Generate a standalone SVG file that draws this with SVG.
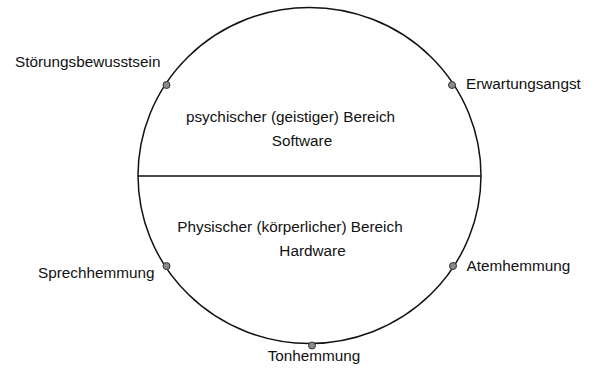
<svg xmlns="http://www.w3.org/2000/svg" width="600" height="370" viewBox="0 0 600 370">
<style>
text{font-family:"Liberation Sans",Arial,sans-serif;font-size:15.3px;fill:#111}
.dot{fill:#8a8a8a;stroke:#333;stroke-width:1}
.ln{fill:none;stroke:#111;stroke-width:1.5}
</style>
<rect width="600" height="370" fill="#fff"/>
<g id="connectors">
<ellipse class="ln" cx="309.5" cy="175.5" rx="171.5" ry="168"/>
<line class="ln" x1="138" y1="176" x2="481" y2="176"/>
</g>
<g id="psychisch">
<text x="290.5" y="122" text-anchor="middle">psychischer (geistiger) Bereich</text>
<text x="302" y="146" text-anchor="middle">Software</text>
</g>
<g id="physisch">
<text x="290" y="232" text-anchor="middle">Physischer (körperlicher) Bereich</text>
<text x="312.5" y="256" text-anchor="middle">Hardware</text>
</g>
<g id="stoerungsbewusstsein">
<circle class="dot" cx="166.5" cy="85" r="3.5"/>
<text x="15" y="67">Störungsbewusstsein</text>
</g>
<g id="erwartungsangst">
<circle class="dot" cx="452" cy="85" r="3.5"/>
<text x="466" y="89">Erwartungsangst</text>
</g>
<g id="sprechhemmung">
<circle class="dot" cx="166.5" cy="266" r="3.5"/>
<text x="38" y="278">Sprechhemmung</text>
</g>
<g id="atemhemmung">
<circle class="dot" cx="453" cy="266" r="3.5"/>
<text x="466.5" y="270.5">Atemhemmung</text>
</g>
<g id="tonhemmung">
<circle class="dot" cx="312" cy="345.5" r="3.5"/>
<text x="314" y="360.5" text-anchor="middle">Tonhemmung</text>
</g>
</svg>
